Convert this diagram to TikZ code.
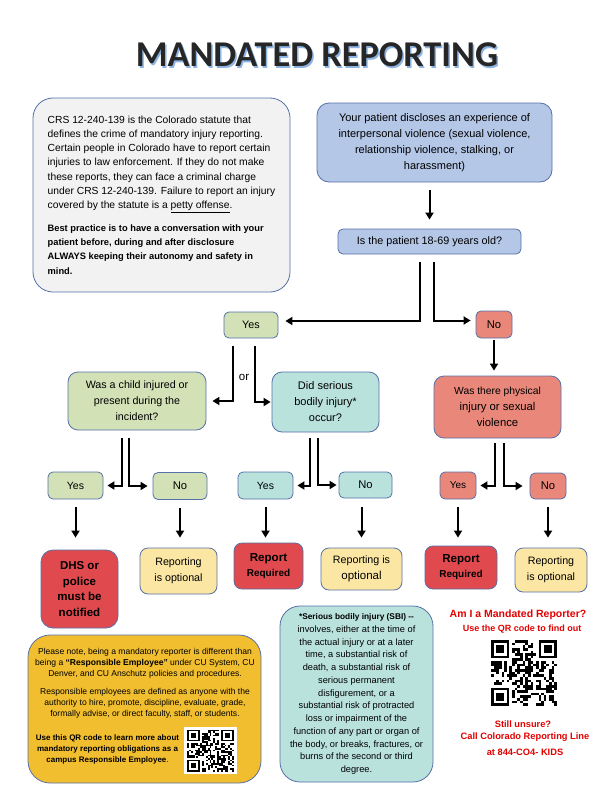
\documentclass[tikz,border=0pt]{standalone}
\usepackage{fontspec}
\setmainfont{Liberation Sans}
\newfontfamily\titlefont{Carlito}
\usetikzlibrary{arrows.meta}

\definecolor{edge}{HTML}{5670A8}
\definecolor{qgray}{HTML}{F2F2F2}
\definecolor{qblue}{HTML}{B4C7E7}
\definecolor{qgreen}{HTML}{D2E1B6}
\definecolor{qteal}{HTML}{B9E2DD}
\definecolor{qsalmon}{HTML}{E8877A}
\definecolor{qred}{HTML}{E04A4E}
\definecolor{qyellow}{HTML}{FBE7A3}
\definecolor{qgold}{HTML}{F1BE2F}
\definecolor{alert}{HTML}{E20000}
\definecolor{titletext}{HTML}{262626}
\definecolor{titleshade}{HTML}{8EB4E3}

\newcommand{\setfs}[2]{\fontsize{#1}{#2}\selectfont}

% fake QR code: #1 top left corner, #2 width, #3 height, #4 seed
\newcommand{\qrblock}[4]{%
  \begin{scope}[shift={#1}, xscale=#2/25, yscale=#3/25]
    \pgfmathsetseed{#4}
    \foreach \qi in {0,...,24}{
      \foreach \qj in {0,...,24}{
        \pgfmathtruncatemacro\qrbit{(((\qi<8)*(\qj<8)+(\qi>16)*(\qj<8)+(\qi<8)*(\qj>16))==0)*(rnd>0.5)}
        \ifnum\qrbit=1 \fill (\qi,\qj) rectangle ++(1,1); \fi
      }
    }
    \foreach \fx/\fy in {0/0, 18/0, 0/18}{
      \fill (\fx,\fy) rectangle ++(7,7);
      \fill[white] (\fx+1,\fy+1) rectangle ++(5,5);
      \fill (\fx+2,\fy+2) rectangle ++(3,3);
    }
  \end{scope}}

\tikzset{
  box/.style={draw=edge, line width=0.8pt, rounded corners=5pt, align=center, inner sep=1pt},
  flow/.style={line width=2pt, -{Triangle[length=7pt,width=8pt]}},
  redtext/.style={text=alert, font=\bfseries\setfs{#1}{12}},
}

\begin{document}
\begin{tikzpicture}[x=1pt, y=-1pt]
  \useasboundingbox (0,0) rectangle (612,792);

  % title with its shadow
  \node[text=titleshade, font=\titlefont\bfseries\setfs{36.3}{40}] (titleshadow) at (318.5,56.5) {MANDATED REPORTING};
  \node[text=titletext, font=\titlefont\bfseries\setfs{36.3}{40}] (title) at (317,55) {MANDATED REPORTING};

  % statute box
  \node[box, rounded corners=20pt, fill=qgray, minimum width=257pt, minimum height=194pt,
        align=left, font=\setfs{10.3}{14.2}] (statute) at (161.5,195)
    {CRS 12-240-139 is the Colorado statute that\\
     defines the crime of mandatory injury reporting.\\
     Certain people in Colorado have to report certain\\
     injuries to law enforcement. If they do not make\\
     these reports, they can face a criminal charge\\
     under CRS 12-240-139. Failure to report an injury\\
     covered by the statute is a \underline{petty offense}.\\[8.8pt]
     {\bfseries\setfs{9.3}{14.2}Best practice is to have a conversation with your}\\
     {\bfseries\setfs{9.3}{14.2}patient before, during and after disclosure}\\
     {\bfseries\setfs{9.3}{14.2}ALWAYS keeping their autonomy and safety in}\\
     {\bfseries\setfs{9.3}{14.2}mind.}};

  % first questions
  \node[box, rounded corners=12pt, fill=qblue, minimum width=235pt, minimum height=79pt, font=\setfs{11}{16}] (disclose) at (434.5,142.5)
    {Your patient discloses an experience of\\interpersonal violence (sexual violence,\\relationship violence, stalking, or\\harassment)};
  \node[box, fill=qblue, minimum width=183pt, minimum height=25pt, font=\setfs{10.8}{13}] (age) at (429.5,241.5) {Is the patient 18-69 years old?};
  \node[box, fill=qgreen, minimum width=54pt, minimum height=26pt, font=\setfs{10.8}{13}] (ageyes) at (251,325) {Yes};
  \node[box, fill=qsalmon, minimum width=36pt, minimum height=27pt, font=\setfs{11.2}{13}] (ageno) at (494,324.5) {No};

  \draw[flow, shorten <=8pt, shorten >=9pt] (age.north |- disclose.south) -- (age.north);
  \draw[flow, shorten <=8pt, shorten >=7pt] ([xshift=-9.5pt]age.south) |- ([yshift=4pt]ageyes.east);
  \draw[flow, shorten <=8pt, shorten >=5pt] ([xshift=4.5pt]age.south) |- ([yshift=4pt]ageno.west);

  % second questions
  \node[box, rounded corners=10pt, fill=qgreen, minimum width=138pt, minimum height=58pt, font=\setfs{10.7}{16}] (child) at (137,401)
    {Was a child injured or\\present during the\\incident?};
  \node[box, rounded corners=10pt, fill=qteal, minimum width=107pt, minimum height=60pt, font=\setfs{11}{16}] (serious) at (325.5,402)
    {Did serious\\bodily injury*\\occur?};
  \node[box, rounded corners=10pt, fill=qsalmon, minimum width=127pt, minimum height=62pt, font=\setfs{11.3}{16}] (physical) at (497.5,407)
    {{\setfs{10.3}{16}Was there physical}\\injury or sexual\\violence};

  \draw[flow, shorten <=8pt, shorten >=6pt] ([xshift=-18pt]ageyes.south) |- (child.east);
  \draw[flow, shorten <=8pt, shorten >=1pt] ([xshift=4pt]ageyes.south) |- (serious.west);
  \node[font=\setfs{11.5}{13}] (either) at (244,377) {or};
  \draw[flow, shorten <=2pt, shorten >=5pt] (ageno.south) -- (ageno.south |- physical.north);

  % answers
  \node[box, fill=qgreen, minimum width=55pt, minimum height=27pt, font=\setfs{10.5}{13}] (childyes) at (75.5,485.5) {Yes};
  \node[box, fill=qgreen, minimum width=54pt, minimum height=27pt, font=\setfs{11.2}{13}] (childno) at (180,486) {No};
  \node[box, fill=qteal, minimum width=55pt, minimum height=27pt, font=\setfs{10.5}{13}] (seriousyes) at (265.5,485.5) {Yes};
  \node[box, fill=qteal, minimum width=53pt, minimum height=26pt, font=\setfs{11.2}{13}] (seriousno) at (365.5,485) {No};
  \node[box, fill=qsalmon, minimum width=36pt, minimum height=27pt, font=\setfs{10}{13}] (physyes) at (458,485.5) {Yes};
  \node[box, fill=qsalmon, minimum width=36pt, minimum height=26pt, font=\setfs{11.2}{13}] (physno) at (548,486) {No};

  \foreach \q/\a/\b/\s/\sa/\sb/\ga/\gb in {child/childyes/childno/8pt/-15pt/-8pt/4pt/5pt,
      serious/seriousyes/seriousno/6pt/-15.5pt/-7.5pt/4pt/2pt,
      physical/physyes/physno/5pt/-2.5pt/6.5pt/4pt/7pt}{
    \draw[flow, shorten <=\s, shorten >=\ga] ([xshift=\sa]\q.south) |- (\a.east);
    \draw[flow, shorten <=\s, shorten >=\gb] ([xshift=\sb]\q.south) |- (\b.west);
  }

  % outcomes
  \node[box, rounded corners=12pt, fill=qred, minimum width=77pt, minimum height=78pt, font=\bfseries\setfs{11.5}{15.7}] (dhs) at (79.5,589)
    {DHS or\\police\\must be\\notified};
  \node[box, rounded corners=8pt, fill=qyellow, minimum width=77pt, minimum height=46pt, font=\setfs{10.7}{16}] (childopt) at (178.5,571)
    {Reporting\\is optional};
  \node[box, rounded corners=8pt, fill=qred, minimum width=69pt, minimum height=46pt, font=\bfseries\setfs{11.6}{15}] (seriousreq) at (268.5,566)
    {Report\\{\setfs{10}{15}Required}};
  \node[box, rounded corners=8pt, fill=qyellow, minimum width=81pt, minimum height=42pt, font=\setfs{10.7}{16}] (seriousopt) at (361.5,569)
    {Reporting is\\{\setfs{11.5}{16}optional}};
  \node[box, rounded corners=8pt, fill=qred, minimum width=72pt, minimum height=43pt, font=\bfseries\setfs{11.6}{15}] (physreq) at (461,567.5)
    {Report\\{\setfs{10}{15}Required}};
  \node[box, rounded corners=8pt, fill=qyellow, minimum width=72pt, minimum height=44pt, font=\setfs{10.7}{16}] (physopt) at (551,570)
    {Reporting\\is optional};

  \foreach \a/\b/\g in {childyes/dhs/12pt, childno/childopt/10pt, seriousyes/seriousreq/5pt,
      physyes/physreq/8pt, physno/physopt/10pt}
    \draw[flow, shorten <=8pt, shorten >=\g] (\a.south) -- (\a.south |- \b.north);
  \draw[flow, shorten <=9pt, shorten >=10pt] (seriousopt.north |- seriousno.south) -- (seriousopt.north);

  % responsible employee note
  \node[box, rounded corners=22pt, fill=qgold, minimum width=233pt, minimum height=148pt] (notice) at (144.5,709) {};
  \node[align=center, inner sep=0pt, font=\setfs{8.55}{11}] (noticetext) at (145,683.5)
    {Please note, being a mandatory reporter is different than\\
     being a \textbf{``Responsible Employee''} under CU System, CU\\
     Denver, and CU Anschutz policies and procedures.\\[7pt]
     Responsible employees are defined as anyone with the\\
     authority to hire, promote, discipline, evaluate, grade,\\
     formally advise, or direct faculty, staff, or students.};
  \node[align=center, inner sep=0pt, font=\bfseries\setfs{8}{11}] (qrnote) at (107.5,749)
    {Use this QR code to learn more about\\mandatory reporting obligations as a\\campus Responsible Employee{\mdseries.}};
  \node[fill=white, minimum width=53pt, minimum height=47pt, inner sep=0pt] (qrframe) at (210.5,750.5) {};
  \qrblock{(187,729.5)}{47}{42}{42}

  % serious bodily injury note
  \node[box, rounded corners=20pt, fill=qteal, minimum width=153pt, minimum height=176pt, font=\setfs{9.25}{12.75}] (sbinote) at (356.5,694)
    {{\bfseries\setfs{8.3}{12.75}*Serious bodily injury (SBI) -{}-}\\
     involves, either at the time of\\
     the actual injury or at a later\\
     time, a substantial risk of\\
     death, a substantial risk of\\
     serious permanent\\
     disfigurement, or a\\
     substantial risk of protracted\\
     loss or impairment of the\\
     function of any part or organ of\\
     the body, or breaks, fractures, or\\
     burns of the second or third\\
     degree.};

  % mandated reporter check
  \node[redtext=10.5] (mandated) at (518,615) {Am I a Mandated Reporter?};
  \node[redtext=9] (findout) at (522,629) {Use the QR code to find out};
  \qrblock{(491,640)}{66}{66}{7}
  \node[redtext=9.3] (unsure) at (523,724) {Still unsure?};
  \node[redtext=9.3] (callline) at (525,737) {Call Colorado Reporting Line};
  \node[redtext=9.3] (kidsline) at (525,752) {at 844-CO4- KIDS};
\end{tikzpicture}
\end{document}
